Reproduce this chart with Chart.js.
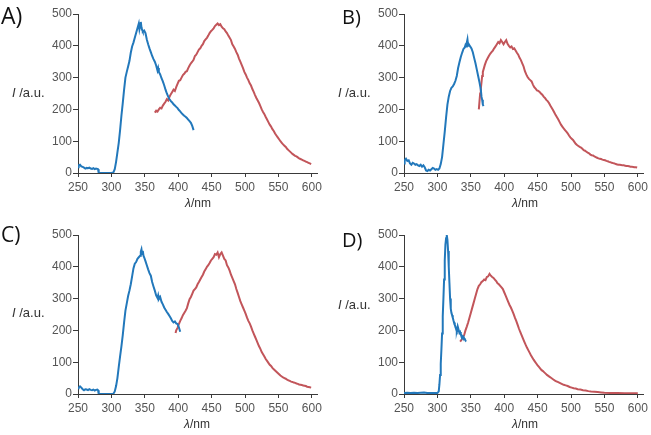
<!DOCTYPE html>
<html><head><meta charset="utf-8">
<script src="https://cdn.jsdelivr.net/npm/chart.js@4"></script>
<style>
html,body{margin:0;padding:0;background:#fff;width:651px;height:435px;overflow:hidden;position:relative;font-family:"Liberation Sans",Arial,sans-serif;}
canvas{position:absolute;}
.lab{position:absolute;font-family:"Open Sans",sans-serif;color:#111;line-height:1;}
.yt{position:absolute;font-size:13px;color:#333;line-height:13px;white-space:nowrap;}
.xt{position:absolute;font-size:12px;color:#333;line-height:12px;white-space:nowrap;}
</style></head><body>
<canvas id="cA" width="325" height="215" style="left:0;top:0"></canvas>
<canvas id="cB" width="325" height="215" style="left:326px;top:0"></canvas>
<canvas id="cC" width="325" height="215" style="left:0;top:221px"></canvas>
<canvas id="cD" width="325" height="215" style="left:326px;top:221px"></canvas>
<div class="lab" style="left:1px;top:4px;font-size:23px">A)</div>
<div class="lab" style="left:342px;top:7px;font-size:20px">B)</div>
<div class="lab" style="left:1px;top:224px;font-size:21px">C)</div>
<div class="lab" style="left:342px;top:230px;font-size:20px">D)</div>
<div class="yt" style="left:12px;top:86px"><i>I</i> /a.u.</div>
<div class="yt" style="left:338px;top:86px"><i>I</i> /a.u.</div>
<div class="yt" style="left:12px;top:306px"><i>I</i> /a.u.</div>
<div class="yt" style="left:338px;top:298px"><i>I</i> /a.u.</div>
<div class="xt" style="left:185px;top:197px"><i>λ</i>/nm</div>
<div class="xt" style="left:512px;top:197px"><i>λ</i>/nm</div>
<div class="xt" style="left:184px;top:418px"><i>λ</i>/nm</div>
<div class="xt" style="left:512px;top:418px"><i>λ</i>/nm</div>
<script>
const xTicks = [250,300,350,400,450,500,550,600];
const yTicks = [0,100,200,300,400,500];
const panelLabels = ["A)","B)","C)","D)"];

const aBlue = [[250,18],[251,24],[253,26],[255,21],[257,19],[259,17],[261,14],[263,16],[265,15],[267,17],[269,14],[271,13],[273,15],[275,12],[277,14],[279,13],[280,12],[281,0],[285,0],[290,0],[295,0],[300,0],[303,2],[305,12],[307,35],[309,65],[311,95],[313,135],[315,180],[317,220],[319,262],[321,300],[323,318],[325,335],[327,352],[329,378],[331,398],[333,410],[335,425],[337,440],[339,455],[341,470],[342,452],[343,462],[344,475],[345,458],[346,450],[347,445],[349,448],[351,440],[353,420],[355,405],[357,392],[359,380],[361,368],[363,358],[365,350],[367,338],[369,322],[370,330],[371,318],[373,310],[375,298],[377,288],[379,276],[381,262],[383,250],[385,240],[387,232],[389,226],[391,222],[393,216],[395,212],[397,208],[399,204],[401,198],[403,194],[405,188],[407,184],[409,180],[411,177],[413,173],[415,168],[417,163],[419,158],[421,148],[423,135]];
const aRed = [[365,190],[367,196],[369,193],[371,200],[373,205],[375,203],[377,212],[379,218],[381,224],[383,232],[385,228],[387,240],[389,248],[391,255],[393,262],[395,258],[397,270],[399,280],[401,290],[403,292],[405,300],[407,308],[409,312],[411,318],[413,320],[415,330],[417,338],[419,345],[421,350],[423,356],[425,368],[427,372],[429,380],[431,388],[433,392],[435,400],[437,405],[439,415],[441,420],[443,425],[445,432],[447,440],[449,446],[451,450],[453,455],[455,462],[457,466],[459,470],[461,465],[463,468],[465,460],[467,455],[469,452],[471,445],[473,440],[475,432],[477,425],[479,418],[481,405],[483,398],[485,390],[487,380],[489,372],[491,360],[493,350],[495,340],[497,330],[499,318],[501,310],[503,300],[505,292],[507,282],[509,275],[511,264],[513,255],[515,245],[517,236],[519,228],[521,220],[523,210],[525,200],[527,192],[529,185],[531,176],[533,168],[535,160],[537,152],[539,146],[541,138],[543,132],[545,124],[547,118],[549,112],[551,106],[553,100],[555,95],[557,90],[559,86],[561,82],[563,76],[565,72],[567,68],[569,64],[571,60],[573,57],[575,54],[577,52],[579,49],[581,46],[583,44],[585,42],[587,40],[589,38],[591,36],[593,34],[595,32],[597,30],[599,28],[600,28]];

const bBlue = [[250,30],[251,40],[253,45],[255,38],[257,40],[259,30],[261,26],[263,32],[265,30],[267,26],[269,28],[271,24],[273,22],[275,26],[277,20],[279,24],[281,18],[283,8],[285,6],[287,10],[289,8],[291,12],[293,16],[295,14],[297,10],[299,12],[301,10],[303,14],[305,28],[307,50],[309,90],[311,130],[313,175],[315,215],[317,240],[319,258],[321,268],[323,272],[325,280],[327,290],[329,305],[331,330],[333,348],[335,365],[337,378],[339,390],[341,395],[342,402],[343,398],[344,410],[345,420],[346,400],[347,405],[349,398],[351,392],[353,380],[355,362],[357,345],[359,325],[361,305],[363,285],[365,262],[366,240],[367,230],[368,215],[369,210]];
const bRed = [[362,200],[363,225],[364,250],[365,265],[366,285],[367,305],[368,318],[369,325],[371,340],[373,352],[375,360],[377,368],[379,375],[381,380],[383,385],[385,392],[387,398],[389,405],[391,412],[393,408],[395,418],[397,412],[399,405],[401,412],[403,418],[405,406],[407,400],[409,395],[411,398],[413,390],[415,392],[417,385],[419,378],[421,372],[423,362],[425,355],[427,345],[429,335],[431,320],[433,310],[435,302],[437,296],[439,292],[441,288],[443,278],[445,270],[447,265],[449,260],[451,258],[453,255],[455,250],[457,246],[459,240],[461,236],[463,230],[465,226],[467,220],[469,212],[471,205],[473,198],[475,190],[477,182],[479,175],[481,168],[483,160],[485,152],[487,146],[489,140],[491,135],[493,130],[495,125],[497,118],[499,112],[501,108],[503,104],[505,98],[507,92],[509,88],[511,85],[513,82],[515,80],[517,76],[519,72],[521,70],[523,67],[525,64],[527,62],[529,58],[531,56],[533,55],[535,52],[537,50],[539,48],[541,46],[543,45],[545,44],[547,42],[549,41],[551,40],[553,38],[555,37],[557,35],[559,34],[561,32],[563,31],[565,30],[567,28],[569,27],[571,26],[573,26],[575,25],[577,24],[579,24],[581,23],[583,22],[585,22],[587,21],[589,20],[591,20],[593,19],[595,18],[597,18],[599,17],[600,17]];

const cBlue = [[250,18],[251,20],[253,24],[255,20],[257,15],[259,12],[261,15],[263,14],[265,12],[267,15],[269,13],[271,12],[273,14],[275,11],[277,13],[279,14],[280,12],[281,0],[285,0],[290,0],[295,0],[300,0],[303,1],[305,8],[307,25],[309,50],[311,85],[313,118],[315,150],[317,185],[319,225],[321,262],[323,285],[325,308],[327,325],[329,345],[331,370],[333,395],[335,410],[337,415],[339,425],[341,430],[343,435],[344,448],[345,455],[346,440],[347,450],[348,435],[349,430],[351,418],[353,405],[355,392],[357,380],[359,372],[361,352],[363,338],[365,325],[367,310],[369,302],[370,310],[371,298],[373,305],[375,290],[377,282],[379,272],[381,265],[383,258],[385,252],[387,245],[389,238],[391,230],[393,225],[395,228],[397,222],[399,220],[401,210],[403,196]];
const cRed = [[396,192],[397,200],[399,208],[401,220],[403,230],[405,238],[407,248],[409,255],[411,262],[413,270],[415,285],[417,298],[419,305],[421,315],[423,325],[425,330],[427,335],[429,345],[431,352],[433,360],[435,368],[437,375],[439,385],[441,392],[443,400],[445,405],[447,412],[449,420],[451,425],[453,430],[455,440],[457,438],[459,445],[461,430],[463,440],[465,445],[467,435],[469,425],[471,420],[473,405],[475,398],[477,388],[479,375],[481,365],[483,355],[485,345],[487,330],[489,318],[491,305],[493,292],[495,282],[497,272],[499,262],[501,252],[503,240],[505,230],[507,222],[509,212],[511,200],[513,190],[515,180],[517,170],[519,160],[521,150],[523,142],[525,132],[527,125],[529,118],[531,110],[533,104],[535,98],[537,92],[539,88],[541,82],[543,78],[545,74],[547,70],[549,66],[551,62],[553,58],[555,55],[557,52],[559,50],[561,48],[563,45],[565,43],[567,41],[569,39],[571,38],[573,36],[575,35],[577,33],[579,32],[581,30],[583,29],[585,28],[587,27],[589,26],[591,25],[593,23],[595,22],[597,21],[599,20],[600,20]];

const dBlue = [[250,3],[255,4],[260,3],[265,4],[270,3],[275,4],[280,5],[285,3],[290,3],[295,3],[300,3],[302,8],[303,30],[304,60],[305,95],[306,140],[307,190],[308,245],[309,300],[310,360],[311,420],[312,470],[313,490],[314,500],[315,485],[316,450],[317,400],[318,350],[319,300],[320,268],[321,255],[322,248],[323,240],[324,232],[325,225],[326,218],[327,210],[328,205],[329,200],[330,210],[331,198],[332,200],[333,192],[334,195],[335,188],[336,185],[337,182],[338,178],[339,180],[340,175],[341,172],[342,168],[343,165]];
const dRed = [[334,165],[336,170],[338,178],[340,185],[342,200],[344,212],[346,225],[348,240],[350,255],[352,270],[354,285],[356,300],[358,315],[360,330],[362,340],[364,345],[366,352],[368,355],[370,360],[372,358],[374,368],[376,370],[378,378],[380,372],[382,368],[384,365],[386,360],[388,355],[390,348],[392,345],[394,340],[396,335],[398,330],[400,320],[402,310],[404,300],[406,290],[408,280],[410,272],[412,262],[414,252],[416,240],[418,230],[420,218],[422,206],[424,195],[426,185],[428,175],[430,165],[432,155],[434,146],[436,138],[438,130],[440,122],[442,115],[444,108],[446,102],[448,96],[450,90],[452,85],[454,80],[456,75],[458,72],[460,68],[462,64],[464,60],[466,57],[468,54],[470,51],[472,48],[474,45],[476,42],[478,40],[480,38],[483,35],[486,32],[489,29],[492,27],[495,25],[498,22],[501,20],[504,18],[507,17],[510,15],[514,14],[518,12],[522,11],[526,9],[530,8],[535,7],[540,6],[545,5],[550,4],[560,3],[570,3],[580,2],[590,2],[600,2]];

const BLUE = '#2278bb', RED = '#c2555a', AXIS = '#3a3a3a', TICKC = '#555';

function toPts(arr){ return arr.map(p => ({x:p[0], y:p[1]})); }

function makeChart(id, blue, red){
  new Chart(document.getElementById(id), {
    type:'line',
    data:{datasets:[
      {data:toPts(blue), borderColor:BLUE, borderWidth:2, pointRadius:0, tension:0, fill:false},
      {data:toPts(red), borderColor:RED, borderWidth:2, pointRadius:0, tension:0, fill:false}
    ]},
    options:{
      animation:false, responsive:false, maintainAspectRatio:false,
      layout:{padding:{left:0, right:7.6, top:14, bottom:0}},
      plugins:{legend:{display:false}, tooltip:{enabled:false}},
      scales:{
        x:{type:'linear', min:250, max:608,
          afterBuildTicks: s => { s.ticks = xTicks.map(v => ({value:v})); },
          afterFit: s => { s.height = 42; },
          grid:{display:true, drawOnChartArea:false, drawTicks:true, tickLength:4, color:AXIS},
          border:{display:true, color:AXIS, width:1},
          ticks:{color:TICKC, font:{family:'"Liberation Sans", Arial', size:12}, padding:3, maxRotation:0, autoSkip:false}
        },
        y:{type:'linear', min:0, max:500,
          afterBuildTicks: s => { s.ticks = yTicks.map(v => ({value:v})); },
          afterFit: s => { s.width = 78; },
          grid:{display:true, drawOnChartArea:false, drawTicks:true, tickLength:5, color:AXIS},
          border:{display:true, color:AXIS, width:1},
          ticks:{color:TICKC, font:{family:'"Liberation Sans", Arial', size:12}, padding:1}
        }
      }
    }
  });
}
makeChart('cA', aBlue, aRed);
makeChart('cB', bBlue, bRed);
makeChart('cC', cBlue, cRed);
makeChart('cD', dBlue, dRed);
</script>
</body></html>
